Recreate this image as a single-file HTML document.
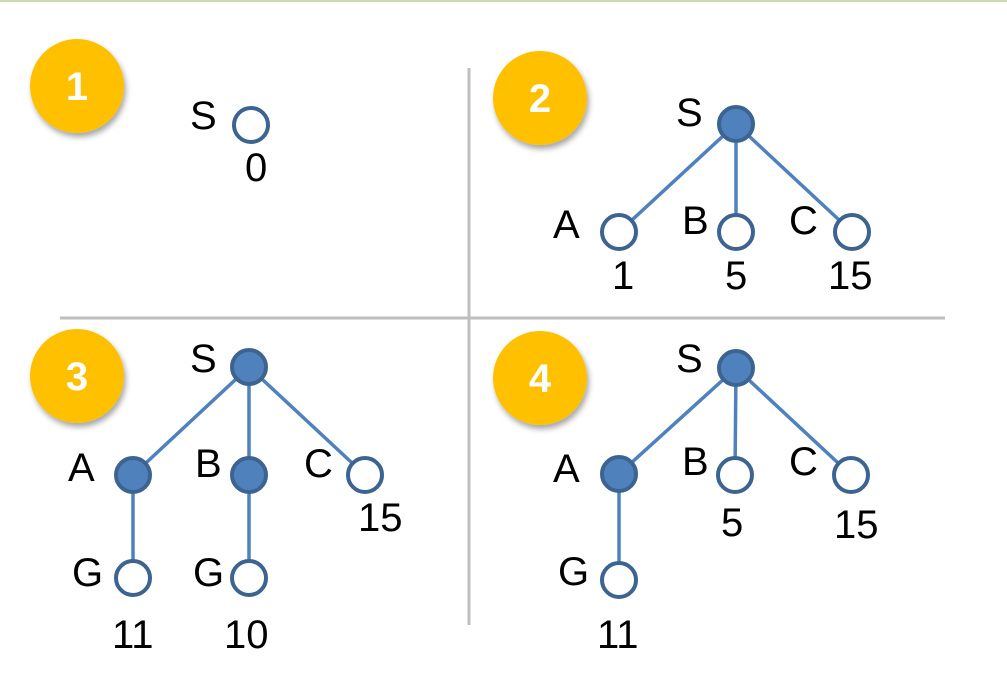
<!DOCTYPE html>
<html><head><meta charset="utf-8"><style>
html,body{margin:0;padding:0;background:#fff;}
svg{display:block;}
text{font-family:"Liberation Sans",sans-serif;}
</style></head><body>
<svg width="1007" height="677" viewBox="0 0 1007 677" xmlns="http://www.w3.org/2000/svg">
<defs>
<filter id="sh" x="-30%" y="-30%" width="160%" height="170%">
<feDropShadow dx="2" dy="4" stdDeviation="3" flood-color="#000" flood-opacity="0.35"/>
</filter>
</defs>
<rect x="0" y="0" width="1007" height="2" fill="#c9dbb0"/>
<line x1="469" y1="68" x2="469" y2="625" stroke="#bfbfbf" stroke-width="3"/>
<line x1="60" y1="318" x2="945" y2="318" stroke="#bfbfbf" stroke-width="3"/>

<g filter="url(#sh)" fill="#ffc000">
<circle cx="77" cy="86" r="47"/>
<circle cx="540" cy="98" r="47"/>
<circle cx="77" cy="376" r="47"/>
<circle cx="540" cy="378" r="47"/>
</g>
<g fill="#fff" font-weight="bold" font-size="40" text-anchor="middle">
<text x="77" y="100">1</text>
<text x="540" y="112">2</text>
<text x="77" y="390">3</text>
<text x="540" y="392">4</text>
</g>

<g stroke="#4f81bd" stroke-width="3.5">
<line x1="736" y1="124" x2="619" y2="232"/>
<line x1="736" y1="124" x2="736" y2="232"/>
<line x1="736" y1="124" x2="852" y2="232"/>
<line x1="249" y1="367" x2="133" y2="475"/>
<line x1="249" y1="367" x2="249" y2="475"/>
<line x1="249" y1="367" x2="365" y2="475"/>
<line x1="133" y1="475" x2="133" y2="578"/>
<line x1="249" y1="475" x2="249" y2="578"/>
<line x1="736" y1="368" x2="619" y2="474"/>
<line x1="736" y1="368" x2="735" y2="475"/>
<line x1="736" y1="368" x2="851" y2="475"/>
<line x1="619" y1="474" x2="619" y2="580"/>
</g>

<g stroke="#3d6491" stroke-width="4" fill="#fff">
<circle cx="251" cy="125" r="17"/>
<circle cx="619" cy="232" r="17"/>
<circle cx="736" cy="232" r="17"/>
<circle cx="852" cy="232" r="17"/>
<circle cx="365" cy="475" r="17"/>
<circle cx="133" cy="578" r="17"/>
<circle cx="249" cy="578" r="17"/>
<circle cx="735" cy="475" r="17"/>
<circle cx="851" cy="475" r="17"/>
<circle cx="619" cy="580" r="17"/>
</g>
<g stroke="#3d6491" stroke-width="4" fill="#4f81bd">
<circle cx="736" cy="124" r="17"/>
<circle cx="249" cy="367" r="17"/>
<circle cx="133" cy="475" r="17"/>
<circle cx="249" cy="475" r="17"/>
<circle cx="736" cy="368" r="17"/>
<circle cx="619" cy="474" r="17"/>
</g>

<g fill="#000" font-size="40">
<text x="190" y="129">S</text>
<text x="245" y="181">0</text>
<text x="676" y="126">S</text>
<text x="553" y="238">A</text>
<text x="682" y="234">B</text>
<text x="789" y="234">C</text>
<text x="612" y="289">1</text>
<text x="725" y="289">5</text>
<text x="828" y="289">15</text>
<text x="190" y="372">S</text>
<text x="68" y="481">A</text>
<text x="195" y="477">B</text>
<text x="304" y="477">C</text>
<text x="358" y="531">15</text>
<text x="72" y="586">G</text>
<text x="193" y="586">G</text>
<text x="112" y="648">11</text>
<text x="224" y="648">10</text>
<text x="676" y="372">S</text>
<text x="553" y="482">A</text>
<text x="682" y="475">B</text>
<text x="789" y="475">C</text>
<text x="721" y="536">5</text>
<text x="834" y="538">15</text>
<text x="558" y="585">G</text>
<text x="597" y="648">11</text>
</g>
</svg>
</body></html>
